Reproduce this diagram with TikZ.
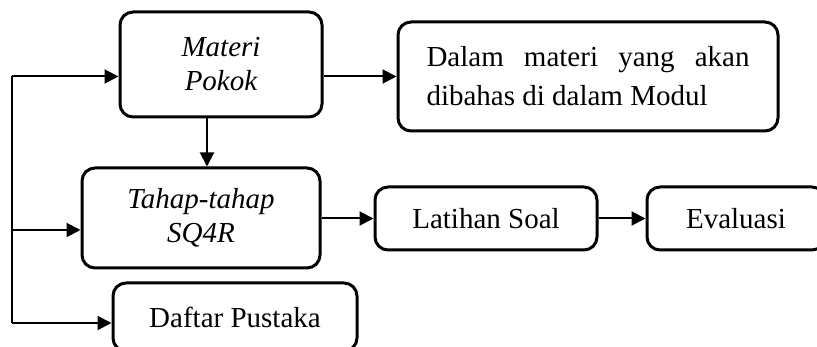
\documentclass[tikz,border=0pt]{standalone}
\usepackage{fontspec}
\setmainfont{Liberation Serif}
\usetikzlibrary{arrows.meta,calc}
\begin{document}
\begin{tikzpicture}[x=1pt,y=-1pt,
  box/.style={draw,line width=3pt,rounded corners=13pt,inner sep=0pt,
    font=\fontsize{29}{34}\selectfont,align=center},
  arr/.style={line width=2pt,-{Triangle[length=14pt,width=14pt]}},
  ln/.style={line width=2pt}]
\useasboundingbox (0,0) rectangle (817,347);
\clip (0,0) rectangle (817,347);
\fill[white] (0,0) rectangle (817,347);
\node[box,minimum width=202pt,minimum height=105pt] (materi) at (221,64.5) {\itshape Materi\\\itshape Pokok};
\node[box,minimum width=380pt,minimum height=109pt,text width=323pt,align=justify,
  font=\fontsize{29}{39}\selectfont] (dalam) at (588,76.5) {Dalam materi yang akan\linebreak dibahas di dalam Modul};
\node[box,minimum width=238pt,minimum height=100pt] (tahap) at (201,218) {\itshape Tahap-tahap\\\itshape SQ4R};
\node[box,minimum width=222pt,minimum height=63pt] (latihan) at (486,218.5) {Latihan Soal};
\node[box,minimum width=178pt,minimum height=63pt] (eval) at (736,218.5) {Evaluasi};
\node[box,minimum width=244pt,minimum height=68pt] (daftar) at (235,317) {Daftar Pustaka};
% connectors
\coordinate (ltop) at (12,76.5);
\coordinate (lbot) at (12,323);
\coordinate (lmid) at (12,230);
\coordinate (mdown) at (207,0);
\draw[arr] (materi.east |- dalam.west) -- (dalam.west);
\draw[arr] (ltop) -- (materi.west |- ltop);
\draw[ln] (ltop) -- (lbot);
\draw[arr] (lmid) -- (tahap.west |- lmid);
\draw[arr] (lbot) -- (daftar.west |- lbot);
\draw[arr] (mdown |- materi.south) -- (mdown |- tahap.north);
\draw[arr] (tahap.east |- latihan.west) -- (latihan.west);
\draw[arr] (latihan.east) -- (eval.west);
\end{tikzpicture}
\end{document}
